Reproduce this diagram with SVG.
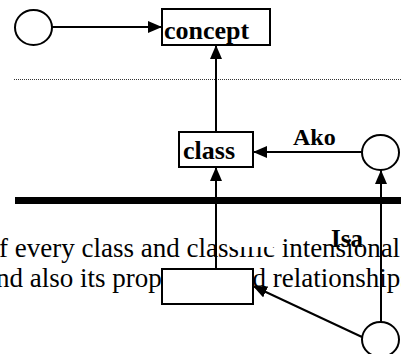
<svg xmlns="http://www.w3.org/2000/svg" width="401" height="354" viewBox="0 0 401 354">
  <style>
    .body { font-family: "Liberation Serif", "Times New Roman", serif; font-size: 27px; fill: #000; }
    .lbl { font-family: "Liberation Serif", "Times New Roman", serif; font-weight: bold; fill: #000; }
    .box { fill: #fff; stroke: #000; stroke-width: 2; }
    .node { fill: #fff; stroke: #000; stroke-width: 2; }
    .edge { fill: none; stroke: #000; stroke-width: 2; }
  </style>
  <defs>
    <marker id="arrow" markerUnits="userSpaceOnUse" markerWidth="14" markerHeight="12" refX="14" refY="6" orient="auto">
      <path d="M0,0 L14,6 L0,12 Z" fill="#000"/>
    </marker>
  </defs>

  <rect width="401" height="354" fill="#fff"/>

  <!-- background paragraph text -->
  <g id="paragraph">
    <text class="body" x="-1" y="257">f every class and classific intensional</text>
    <text class="body" x="-4" y="287">nd also its prop</text>
    <text class="body" x="252.5" y="287">d relationships</text>
    <rect x="230" y="205" width="47" height="42" fill="#fff"/>
  </g>

  <!-- separators -->
  <line x1="14" y1="79.5" x2="401" y2="79.5" stroke="#333" stroke-width="1" stroke-dasharray="1 1"/>
  <line x1="15" y1="200.5" x2="401" y2="200.5" stroke="#000" stroke-width="7"/>

  <!-- connectors -->
  <g id="connectors">
    <line class="edge" x1="52" y1="27" x2="162" y2="27" marker-end="url(#arrow)"/>
    <line class="edge" x1="216" y1="132" x2="216" y2="45" marker-end="url(#arrow)"/>
    <line class="edge" x1="362" y1="152" x2="253" y2="152" marker-end="url(#arrow)"/>
    <line class="edge" x1="216" y1="269" x2="216" y2="167" marker-end="url(#arrow)"/>
    <line class="edge" x1="381" y1="322" x2="381" y2="170" marker-end="url(#arrow)"/>
    <line class="edge" x1="362" y1="337" x2="253" y2="286" marker-end="url(#arrow)"/>
  </g>

  <!-- nodes -->
  <g id="node-top-circle">
    <ellipse class="node" cx="33.5" cy="27.5" rx="18.5" ry="17.5"/>
  </g>
  <g id="node-concept">
    <rect class="box" x="162" y="9" width="108" height="36"/>
    <text class="lbl" x="164" y="39" font-size="26">concept</text>
  </g>
  <g id="node-class">
    <rect class="box" x="179" y="132" width="74" height="35"/>
    <text class="lbl" x="183" y="159" font-size="26">class</text>
  </g>
  <g id="node-ako-circle">
    <ellipse class="node" cx="380.5" cy="152.5" rx="18.5" ry="17.5"/>
  </g>
  <g id="node-lower-box">
    <rect class="box" x="162" y="269" width="91" height="35"/>
  </g>
  <g id="node-bottom-circle">
    <ellipse class="node" cx="380.5" cy="339.5" rx="18.5" ry="17.5"/>
  </g>

  <!-- edge labels -->
  <text class="lbl" x="293" y="145" font-size="24">Ako</text>
  <text class="lbl" x="331" y="247" font-size="25">Isa</text>
</svg>
